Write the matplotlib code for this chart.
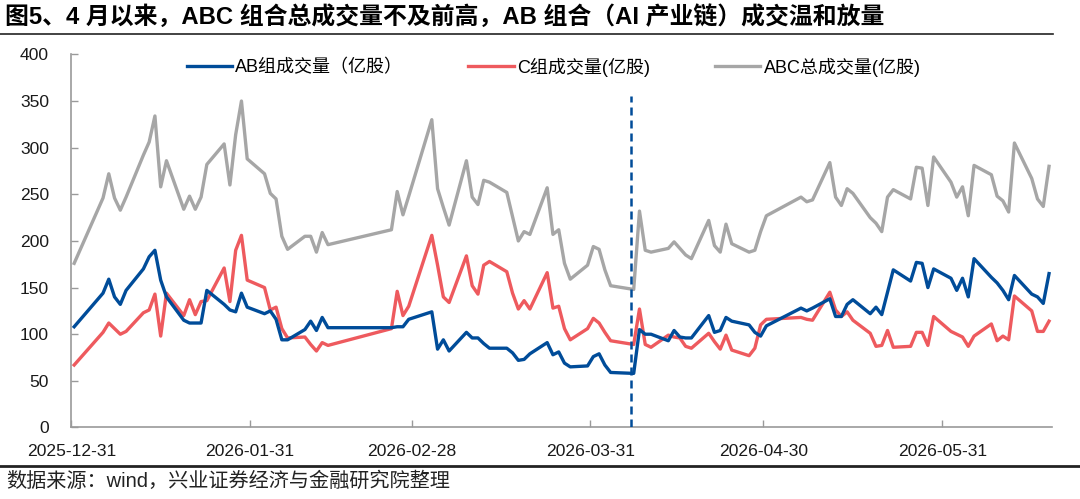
import numpy as np
import pandas as pd
import matplotlib
matplotlib.use("Agg")
import matplotlib.pyplot as plt
import matplotlib.dates as mdates

plt.rcParams['font.family'] = ['Liberation Sans', 'Noto Sans CJK SC']
plt.rcParams['axes.unicode_minus'] = False

# trading days shown on the chart
dates = [
    "2025-12-31",
    "2026-01-05", "2026-01-06", "2026-01-07", "2026-01-08", "2026-01-09",
    "2026-01-12", "2026-01-13", "2026-01-14", "2026-01-15", "2026-01-16",
    "2026-01-19", "2026-01-20", "2026-01-21", "2026-01-22", "2026-01-23",
    "2026-01-26", "2026-01-27", "2026-01-28", "2026-01-29", "2026-01-30",
    "2026-02-02", "2026-02-03", "2026-02-04", "2026-02-05", "2026-02-06",
    "2026-02-09", "2026-02-10", "2026-02-11", "2026-02-12", "2026-02-13",
    "2026-02-24", "2026-02-25", "2026-02-26", "2026-02-27",
    "2026-03-03", "2026-03-04", "2026-03-05", "2026-03-06",
    "2026-03-09", "2026-03-10", "2026-03-11", "2026-03-12", "2026-03-13",
    "2026-03-16", "2026-03-17", "2026-03-18", "2026-03-19", "2026-03-20",
    "2026-03-23", "2026-03-24", "2026-03-25", "2026-03-26", "2026-03-27",
    "2026-03-30", "2026-03-31", "2026-04-01", "2026-04-02", "2026-04-03",
    "2026-04-07", "2026-04-08", "2026-04-09", "2026-04-10",
    "2026-04-13", "2026-04-14", "2026-04-15", "2026-04-16", "2026-04-17",
    "2026-04-20", "2026-04-21", "2026-04-22", "2026-04-23", "2026-04-24",
    "2026-04-27", "2026-04-28", "2026-04-29", "2026-04-30",
    "2026-05-06", "2026-05-07", "2026-05-08",
    "2026-05-11", "2026-05-12", "2026-05-13", "2026-05-14", "2026-05-15",
    "2026-05-18", "2026-05-19", "2026-05-20", "2026-05-21", "2026-05-22",
    "2026-05-25", "2026-05-26", "2026-05-27", "2026-05-28", "2026-05-29",
    "2026-06-01", "2026-06-02", "2026-06-03", "2026-06-04", "2026-06-05",
    "2026-06-08", "2026-06-09", "2026-06-10", "2026-06-11", "2026-06-12",
    "2026-06-15", "2026-06-16", "2026-06-17", "2026-06-18",
]

# AB组成交量（亿股）
ab_volume = [
    108,
    144, 159, 140, 132, 147,
    170, 183, 190, 158, 140,
    115, 112, 112, 112, 147,
    132, 126, 124, 144, 129,
    122, 125, 116, 94, 94,
    105, 114, 104, 118, 107,
    107, 108, 108, 116,
    124, 84, 94, 82,
    102, 96, 96, 90, 85,
    85, 80, 72, 73, 79,
    91, 78, 81, 69, 65,
    66, 76, 79, 67, 59,
    58, 105, 100, 100,
    93, 104, 97, 96, 96,
    120, 102, 104, 118, 114,
    110, 102, 98, 109,
    128, 125, 128,
    138, 119, 119, 132, 137,
    122, 129, 121, 145, 169,
    157, 177, 176, 150, 170,
    160, 147, 160, 140, 181,
    161, 155, 147, 137, 163,
    143, 140, 133, 165,
]

# C组成交量(亿股)
c_volume = [
    67,
    102, 112, 106, 100, 103,
    123, 126, 143, 98, 144,
    120, 137, 121, 135, 136,
    171, 135, 190, 206, 158,
    150, 126, 129, 106, 96,
    97, 89, 82, 91, 88,
    106, 146, 120, 130,
    206, 174, 140, 134,
    184, 152, 143, 174, 178,
    167, 144, 127, 136, 127,
    166, 128, 130, 106, 94,
    106, 117, 112, 102, 93,
    89, 127, 89, 86,
    99, 97, 96, 87, 85,
    101, 92, 84, 99, 83,
    77, 85, 110, 116,
    118, 116, 115,
    145, 126, 119, 124, 115,
    101, 87, 88, 104, 86,
    87, 102, 102, 88, 119,
    103, 100, 97, 87, 98,
    111, 93, 98, 94, 141,
    125, 103, 103, 114,
]

# ABC总成交量(亿股)
abc_volume = [
    176,
    246, 272, 246, 233, 247,
    292, 306, 334, 258, 286,
    234, 248, 234, 247, 282,
    304, 260, 314, 350, 288,
    272, 251, 245, 205, 191,
    205, 205, 188, 209, 196,
    212, 253, 228, 248,
    330, 256, 236, 217,
    286, 247, 239, 265, 263,
    252, 226, 200, 210, 207,
    257, 207, 212, 176, 159,
    174, 194, 191, 169, 152,
    148, 232, 190, 188,
    192, 199, 192, 185, 181,
    222, 195, 188, 218, 197,
    188, 190, 210, 227,
    247, 242, 244,
    284, 247, 238, 256, 251,
    225, 219, 210, 247, 255,
    245, 279, 278, 238, 290,
    263, 247, 258, 227, 281,
    271, 248, 243, 231, 305,
    267, 245, 237, 280,
]

tick_dates = ["2025-12-31", "2026-01-31", "2026-02-28",
              "2026-03-31", "2026-04-30", "2026-05-31"]
split_date = "2026-04-07"

title = "图5、4 月以来，ABC 组合总成交量不及前高，AB 组合（AI 产业链）成交温和放量"
source = "数据来源：wind，兴业证券经济与金融研究院整理"

blue = "#004C99"
red = "#EE5A5E"
gray = "#A6A6A6"
axis_gray = "#9A9A9A"

x = pd.to_datetime(dates)

fig = plt.figure(figsize=(10.8, 4.99), dpi=100)
ax = fig.add_axes([0.066, 0.1433, 0.908, 0.7477])

ax.plot(x, ab_volume, color=blue, lw=2.4, label="AB组成交量（亿股）", zorder=4)
ax.plot(x, c_volume, color=red, lw=2.4, label="C组成交量(亿股)", zorder=3)
ax.plot(x, abc_volume, color=gray, lw=2.4, label="ABC总成交量(亿股)", zorder=2)

# split marker, drawn on the day-slot edge like the ticks
split_x = mdates.date2num(pd.Timestamp(split_date)) - 0.5
ax.vlines(split_x, 0, 355, colors=blue, lw=1.8,
          linestyles=(0, (3.2, 2.0)), zorder=5)

# excel-style date axis: each day is a slot, ticks at slot edges
x0 = mdates.date2num(x[0]) - 0.5
x1 = mdates.date2num(x[-1]) + 0.5
ax.set_xlim(x0, x1)
ax.set_ylim(0, 400)
ax.set_yticks(np.arange(0, 401, 50))
ax.set_xticks(mdates.date2num(pd.to_datetime(tick_dates)) - 0.5)
ax.set_xticklabels(tick_dates)

for side in ['top', 'right']:
    ax.spines[side].set_visible(False)
for side in ['left', 'bottom']:
    ax.spines[side].set_color(axis_gray)
    ax.spines[side].set_linewidth(1.2)

ax.tick_params(axis='both', direction='in', length=5, width=1.0,
               color=axis_gray, labelsize=12.6, labelcolor='#1a1a1a')
ax.tick_params(axis='x', pad=12)
ax.tick_params(axis='y', pad=16)

ax.legend(loc='center', bbox_to_anchor=(0.492, 0.966), ncol=3, frameon=False,
          fontsize=13, handlelength=2.5, handletextpad=0.2, columnspacing=3.6)

# title, rules and source note
fig.text(0.005, 1 - 17 / 499, title, fontsize=17.2, fontweight='bold',
         ha='left', va='center', color='black')
fig.add_artist(plt.Line2D([0, 0.975], [1 - 34 / 499] * 2, color='#222222', lw=1.2))
fig.add_artist(plt.Line2D([0, 1], [1 - 466 / 499] * 2, color='#222222', lw=2.0))
fig.text(0.006, 1 - 481 / 499, source, fontsize=14.5, ha='left', va='center',
         color='#222222')

fig.savefig("out.png", dpi=100)
